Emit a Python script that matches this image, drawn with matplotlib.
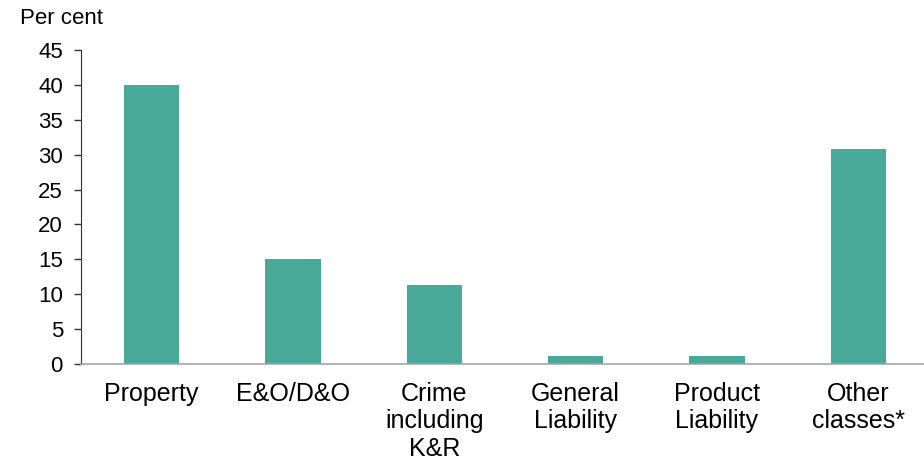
import matplotlib

matplotlib.use("Agg")
import matplotlib.pyplot as plt
import numpy as np

categories = ["Property", "E&O/D&O", "Crime\nincluding\nK&R", "General\nLiability",
              "Product\nLiability", "Other\nclasses*"]
values = [40.0, 15.1, 11.3, 1.1, 1.1, 30.8]
yticks = np.arange(0, 50, 5)

plt.rcParams["font.family"] = ["Liberation Sans", "DejaVu Sans"]

fig = plt.figure(figsize=(9.24, 4.62), dpi=100)
ax = fig.add_axes([81 / 924, 1 - 364 / 462, 848 / 924, 314 / 462])

x = np.arange(len(categories))
ax.bar(x, values, width=0.39, color="#49a999", zorder=2)

ax.set_xlim(-0.5, len(categories) - 0.5)
ax.set_ylim(0, 45)
ax.set_yticks(yticks)
ax.set_xticks(x)
ax.set_xticklabels(categories, fontsize=18, linespacing=1.18)
ax.tick_params(axis="x", length=0, pad=13)
ax.tick_params(axis="y", labelsize=16, length=5, width=1, direction="out", pad=8, color="#333333")

for side in ("top", "right"):
    ax.spines[side].set_visible(False)
ax.spines["left"].set_color("#333333")
ax.spines["bottom"].set_color("#a6a6a6")
ax.spines["bottom"].set_linewidth(1.2)
ax.spines["bottom"].set_zorder(3)

fig.text(20 / 924, 1 - 18 / 462, "Per cent", fontsize=16, ha="left", va="center")

fig.savefig("out.png", dpi=100)
